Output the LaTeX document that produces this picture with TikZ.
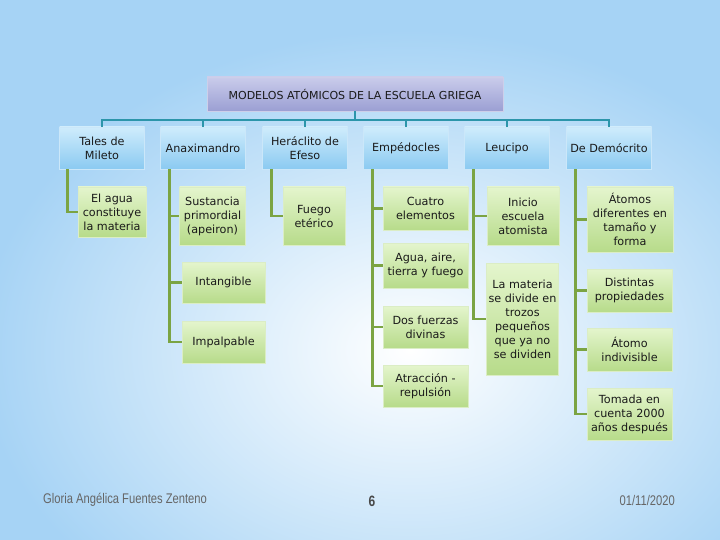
\documentclass[tikz,border=0pt]{standalone}
\usepackage{fontspec}
\setmainfont{DejaVu Sans}
\newfontfamily\footfont[FakeStretch=0.8]{Liberation Sans}
\definecolor{bg-blue}{HTML}{A6D3F5}
\definecolor{head-top}{HTML}{CFECFC}
\definecolor{head-bot}{HTML}{8BCAF1}
\definecolor{leaf-top}{HTML}{E4F5CD}
\definecolor{leaf-bot}{HTML}{B7DB8A}
\definecolor{title-top}{HTML}{CACCEB}
\definecolor{title-bot}{HTML}{9B9FD3}
\definecolor{teal-line}{HTML}{2C95AA}
\definecolor{olive-line}{HTML}{7BA443}
\definecolor{jet}{HTML}{1A1A1A}
\definecolor{foot-gray}{HTML}{666666}

\begin{document}
\begin{tikzpicture}[x=1pt, y=-1pt,
  every node/.style={font=\fontsize{11.2}{14}\selectfont, text=jet, align=center, inner sep=1pt},
  head/.style={top color=head-top, bottom color=head-bot, draw=white!55!head-bot, line width=0.4pt, minimum width=85pt, minimum height=42pt},
  leaf/.style={top color=leaf-top, bottom color=leaf-bot, draw=white!50!leaf-bot, line width=0.4pt, minimum width=85pt},
  topline/.style={draw=teal-line, line width=2pt},
  subline/.style={draw=olive-line, line width=2.5pt},
  foot/.style={font=\footfont\fontsize{14}{16}\selectfont, text=foot-gray}]
  % background
  \useasboundingbox (0,0) rectangle (720,540);
  \fill[bg-blue] (0,0) rectangle (720,540);
  \begin{scope}
    \clip (0,0) rectangle (720,540);
    \shade[inner color=white, outer color=bg-blue] (410,350) ellipse (430 and 320);
  \end{scope}

  % title and authors
  \node[top color=title-top, bottom color=title-bot, draw=white!50!title-bot, minimum width=296pt, minimum height=34pt, font=\fontsize{11}{13}\selectfont] (title) at (355,94) {MODELOS ATÓMICOS DE LA ESCUELA GRIEGA};
  \node[head] (tales) at (102,148) {Tales de\\Mileto};
  \node[head] (anax) at (203,148) {Anaximandro};
  \node[head] (hera) at (305,148) {Heráclito de\\Efeso};
  \node[head] (emped) at (406,148) {Empédocles};
  \node[head] (leuc) at (507,148) {Leucipo};
  \node[head] (demo) at (609,148) {De Demócrito};

  \coordinate (bar) at (355,120);
  \draw[topline] (title.south) -- (bar);
  \foreach \h in {tales,anax,hera,emped,leuc,demo}
    \draw[topline] (bar) -| (\h.north);

  % ideas
  \node[leaf, minimum width=68pt, minimum height=50pt] (agua) at (112,212) {El agua\\constituye\\la materia};
  \node[leaf, minimum width=66pt, minimum height=58pt] (sustancia) at (212.5,216) {Sustancia\\primordial\\(apeiron)};
  \node[leaf, minimum width=83pt, minimum height=41pt] (intangible) at (223.5,282.5) {Intangible};
  \node[leaf, minimum width=83pt, minimum height=42pt] (impalpable) at (223.5,342) {Impalpable};
  \node[leaf, minimum width=62pt, minimum height=58pt] (fuego) at (314,216) {Fuego\\etérico};
  \node[leaf, minimum height=43pt] (cuatro) at (425.5,208.5) {Cuatro\\elementos};
  \node[leaf, minimum height=45pt] (agua-aire) at (425.5,265.5) {Agua, aire,\\tierra y fuego};
  \node[leaf, minimum height=42pt] (fuerzas) at (425.5,327) {Dos fuerzas\\divinas};
  \node[leaf, minimum height=42pt] (atraccion) at (425.5,386) {Atracción -\\repulsión};
  \node[leaf, minimum width=72pt, minimum height=58pt] (inicio) at (523,216) {Inicio\\escuela\\atomista};
  \node[leaf, minimum width=72pt, minimum height=112pt] (materia) at (522.5,319) {La materia\\se divide en\\trozos\\pequeños\\que ya no\\se dividen};
  \node[leaf, minimum width=86pt, minimum height=65pt] (atomos) at (630,219.5) {Átomos\\diferentes en\\tamaño y\\forma};
  \node[leaf, minimum height=43pt] (propiedades) at (629.5,290.5) {Distintas\\propiedades};
  \node[leaf, minimum height=43pt] (indivisible) at (629.5,349.5) {Átomo\\indivisible};
  \node[leaf, minimum height=52pt] (tomada) at (629.5,414) {Tomada en\\cuenta 2000\\años después};

  \draw[subline] ([xshift=8pt]tales.south west) |- (agua.west);
  \foreach \c in {sustancia,intangible,impalpable}
    \draw[subline] ([xshift=9pt]anax.south west) |- (\c.west);
  \draw[subline] ([xshift=9pt]hera.south west) |- (fuego.west);
  \foreach \c in {cuatro,agua-aire,fuerzas,atraccion}
    \draw[subline] ([xshift=9pt]emped.south west) |- (\c.west);
  \foreach \c in {inicio,materia}
    \draw[subline] ([xshift=9pt]leuc.south west) |- (\c.west);
  \foreach \c in {atomos,propiedades,indivisible,tomada}
    \draw[subline] ([xshift=9pt]demo.south west) |- (\c.west);

  % footer
  \node[foot, anchor=west] (autora) at (42,500) {Gloria Angélica Fuentes Zenteno};
  \node[foot, text=jet!80, font=\footfont\fontsize{15}{17}\selectfont\bfseries] (pagina) at (372,501) {6};
  \node[foot, anchor=east] (fecha) at (676,500) {01/11/2020};
\end{tikzpicture}
\end{document}
